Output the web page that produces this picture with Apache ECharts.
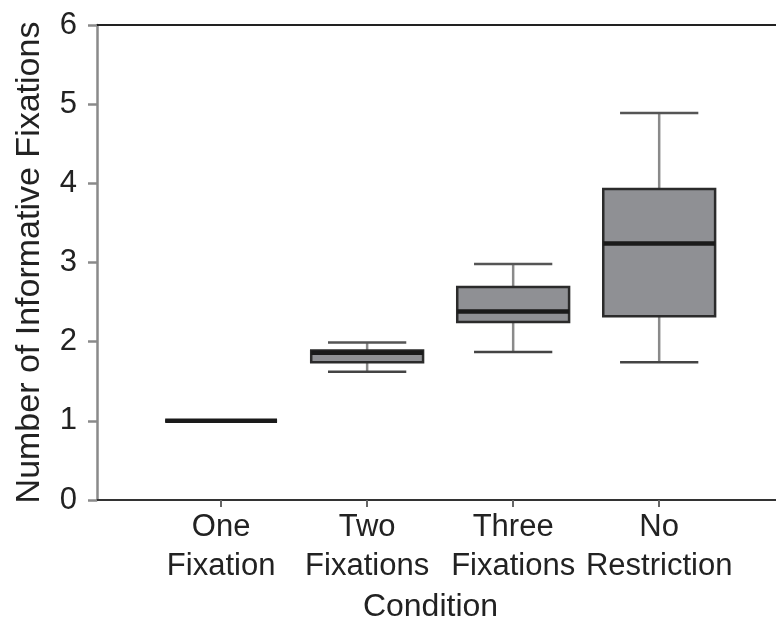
<!DOCTYPE html>
<html>
<head>
<meta charset="utf-8">
<script src="https://cdn.jsdelivr.net/npm/echarts@6/dist/echarts.min.js"></script>
<style>
  html, body { margin: 0; padding: 0; background: #fff; }
  #chart { width: 776px; height: 629px; }
</style>
</head>
<body>
<div id="chart"></div>
<script>
// conditions along the x axis, placed at 1..4
var categories = ['One\nFixation', 'Two\nFixations', 'Three\nFixations', 'No\nRestriction'];
// box plot statistics per condition
var minVals    = [1.00, 1.62, 1.87, 1.74];
var q1Vals     = [1.00, 1.74, 2.25, 2.32];
var medianVals = [1.00, 1.86, 2.38, 3.24];
var q3Vals     = [1.00, 1.89, 2.69, 3.93];
var maxVals    = [1.00, 1.99, 2.98, 4.89];
var yTicks = [0, 1, 2, 3, 4, 5, 6];

var rows = categories.map(function (c, i) {
    return [i + 1, minVals[i], q1Vals[i], medianVals[i], q3Vals[i], maxVals[i]];
});

var font = 'Liberation Sans, Arial, sans-serif';

function renderBox(params, api) {
    var x = api.value(0);
    var unit = api.size([1, 0])[0];
    var halfBox = unit * 0.383;
    var halfCap = unit * 0.268;
    var pMin = api.coord([x, api.value(1)]);
    var pQ1 = api.coord([x, api.value(2)]);
    var pMed = api.coord([x, api.value(3)]);
    var pQ3 = api.coord([x, api.value(4)]);
    var pMax = api.coord([x, api.value(5)]);
    var cx = pMed[0];
    var children = [];
    if (pMax[1] < pQ3[1] - 0.5) {
        children.push({type: 'line', shape: {x1: cx, y1: pQ3[1], x2: cx, y2: pMax[1]},
            style: {stroke: '#8a8a8a', lineWidth: 2.5}});
        children.push({type: 'line', shape: {x1: cx - halfCap, y1: pMax[1], x2: cx + halfCap, y2: pMax[1]},
            style: {stroke: '#555', lineWidth: 2.5}});
    }
    if (pMin[1] > pQ1[1] + 0.5) {
        children.push({type: 'line', shape: {x1: cx, y1: pQ1[1], x2: cx, y2: pMin[1]},
            style: {stroke: '#8a8a8a', lineWidth: 2.5}});
        children.push({type: 'line', shape: {x1: cx - halfCap, y1: pMin[1], x2: cx + halfCap, y2: pMin[1]},
            style: {stroke: '#444', lineWidth: 2.5}});
    }
    children.push({type: 'rect',
        shape: {x: cx - halfBox, y: pQ3[1], width: halfBox * 2, height: pQ1[1] - pQ3[1]},
        style: {fill: '#8f9094', stroke: '#2b2b2b', lineWidth: 2.5}});
    children.push({type: 'line', shape: {x1: cx - halfBox, y1: pMed[1], x2: cx + halfBox, y2: pMed[1]},
        style: {stroke: '#1a1a1a', lineWidth: 4.5}});
    return {type: 'group', children: children};
}

var myChart = echarts.init(document.getElementById('chart'));
myChart.setOption({
    backgroundColor: '#ffffff',
    animation: false,
    grid: {left: 97, right: 0, top: 25, bottom: 129, containLabel: false},
    xAxis: [{
        type: 'value',
        min: 0.15,
        max: 4.8,
        name: 'Condition',
        nameLocation: 'middle',
        nameGap: 84,
        nameTextStyle: {fontSize: 32, color: '#222', fontFamily: font, padding: [0, 12, 0, 0]},
        axisLine: {show: true, lineStyle: {color: '#333', width: 2}},
        axisTick: {show: true, customValues: [1, 2, 3, 4], length: 7, lineStyle: {color: '#666', width: 2}},
        axisLabel: {
            customValues: [1, 2, 3, 4],
            margin: 8,
            fontSize: 31,
            lineHeight: 39,
            color: '#222',
            fontFamily: font,
            formatter: function (v) { return categories[Math.round(v) - 1] || ''; }
        },
        splitLine: {show: false}
    }, {
        type: 'value',
        position: 'top',
        min: 0.15,
        max: 4.8,
        axisLine: {show: true, onZero: false, lineStyle: {color: '#222', width: 2}},
        axisTick: {show: false},
        axisLabel: {show: false},
        splitLine: {show: false}
    }],
    yAxis: {
        type: 'value',
        min: yTicks[0],
        max: yTicks[yTicks.length - 1],
        interval: 1,
        name: 'Number of Informative Fixations',
        nameLocation: 'middle',
        nameGap: 50,
        nameTextStyle: {fontSize: 34, color: '#222', fontFamily: font},
        axisLine: {show: true, lineStyle: {color: '#8a8a8a', width: 2.5}},
        axisTick: {show: true, length: 9, lineStyle: {color: '#8a8a8a', width: 2.5}},
        axisLabel: {margin: 20, fontSize: 31, color: '#222', fontFamily: font},
        splitLine: {show: false}
    },
    series: [{
        type: 'custom',
        xAxisIndex: 0,
        renderItem: renderBox,
        encode: {x: 0, y: [1, 2, 3, 4, 5]},
        data: rows
    }]
});
window.addEventListener('resize', function () {
    myChart.resize();
});
</script>
</body>
</html>
